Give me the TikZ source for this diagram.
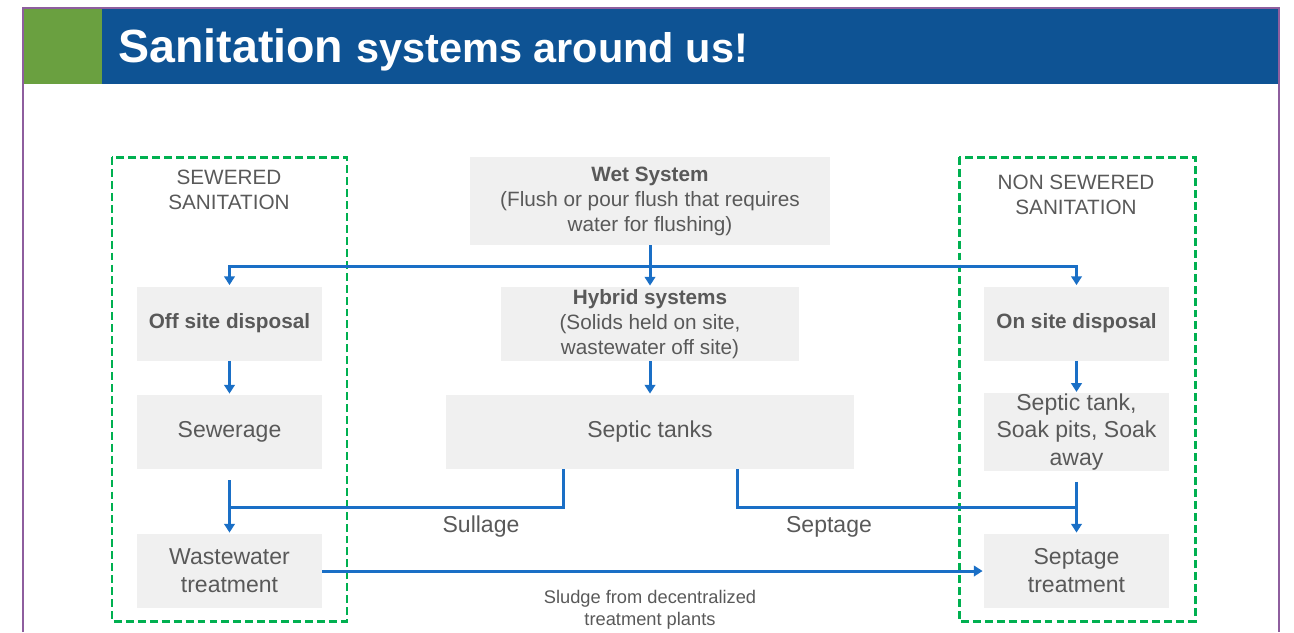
\documentclass[tikz,border=0pt]{standalone}
\usepackage{fontspec}
\setmainfont{Liberation Sans}
\usetikzlibrary{arrows.meta}

\definecolor{hdrblue}{HTML}{0E5394}
\definecolor{hdrgreen}{HTML}{6AA040}
\definecolor{framepurple}{HTML}{8E5E9E}
\definecolor{boxgray}{HTML}{F0F0F0}
\definecolor{txtgray}{HTML}{595959}
\definecolor{flowblue}{HTML}{1A6FC6}
\definecolor{zonegreen}{HTML}{00B050}

\begin{document}
\begin{tikzpicture}[
	box/.style={fill=boxgray, text=txtgray, align=center, inner sep=0pt,
		minimum width=3.7cm, minimum height=1.48cm,
		font=\fontsize{13.1}{15.9}\selectfont},
	small/.style={font=\fontsize{11.8}{14.2}\selectfont},
	lbl/.style={text=txtgray, align=center},
	link/.style={draw=flowblue, line width=1.7pt},
	flow/.style={link, -{Triangle[length=5pt,width=6pt]}, shorten >=0.6pt},
	zone/.style={draw=zonegreen, line width=1.7pt, dash pattern=on 4.5pt off 2.3pt}]
	\def \hor{ 0.02 };
	\def \ver{ -0.02 };
	\def \gap{ 11*0.5669pt };
	\useasboundingbox (0,0) rectangle (1294*\hor,632*\ver);

	% slide frame and header
	\fill[hdrgreen] (23*\hor,8*\ver) rectangle (102*\hor,84*\ver);
	\fill[hdrblue] (102*\hor,8*\ver) rectangle (1279*\hor,84*\ver);
	\draw[framepurple, line width=0.6pt] (23*\hor,632*\ver) -- (23*\hor,8*\ver) -- (1279*\hor,8*\ver) -- (1279*\hor,632*\ver);
	\node[anchor=base west, inner sep=0pt, text=white, font=\bfseries] (title) at (118*\hor,62*\ver)
		{\fontsize{26.5}{30}\selectfont Sanitation \fontsize{23.6}{28}\selectfont systems around us!};

	% zones
	\draw[zone] (112*\hor,157*\ver) rectangle (347*\hor,621*\ver);
	\draw[zone] (959*\hor,157*\ver) rectangle (1195*\hor,621*\ver);
	\node[lbl, small] (sewered) at (229*\hor,190*\ver) {SEWERED\\SANITATION};
	\node[lbl, small] (nonsewered) at (1076*\hor,195*\ver) {NON SEWERED\\SANITATION};

	% boxes
	\node[box, small, minimum width=7.2cm, minimum height=1.76cm] (wet) at (650*\hor,201*\ver)
		{\textbf{Wet System}\\(Flush or pour flush that requires\\water for flushing)};
	\node[box, small] (off) at (229.5*\hor,323.5*\ver) {\textbf{Off site disposal}};
	\node[box, small, minimum width=5.96cm] (hyb) at (650*\hor,324*\ver)
		{\textbf{Hybrid systems}\\(Solids held on site,\\wastewater off site)};
	\node[box, small] (on) at (1076.5*\hor,323.5*\ver) {\textbf{On site disposal}};
	\node[box] (sew) at (229.5*\hor,432*\ver) {Sewerage};
	\node[box, minimum width=8.18cm] (sep) at (650*\hor,432*\ver) {Septic tanks};
	\node[box] (soak) at (1076.5*\hor,432*\ver) {Septic tank,\\Soak pits, Soak\\away};
	\node[box] (wwt) at (229.5*\hor,571*\ver) {Wastewater\\treatment};
	\node[box] (stt) at (1076.5*\hor,571*\ver) {Septage\\treatment};

	% connectors
	\coordinate (split) at (650*\hor,266*\ver);
	\coordinate (sulla) at (563*\hor,469*\ver);
	\coordinate (sullb) at (229.5*\hor,507*\ver);
	\coordinate (septa) at (737*\hor,469*\ver);
	\coordinate (septb) at (1076.5*\hor,507*\ver);

	\draw[flow] (wet) -- (hyb);
	\draw[flow] (split) -| (off);
	\draw[flow] (split) -| (on);
	\draw[flow] (off) -- (sew);
	\draw[flow] (hyb) -- (sep);
	\draw[flow] (on) -- (soak);
	\draw[flow, shorten <=\gap] (sew) -- (wwt);
	\draw[flow, shorten <=\gap] (soak) -- (stt);
	\draw[link] (sulla) |- (sullb);
	\draw[link] (septa) |- (septb);
	\draw[flow] (wwt) -- (stt);

	% flow labels
	\node[lbl, font=\fontsize{13.1}{15.9}\selectfont] (sullage) at (481*\hor,527*\ver) {Sullage};
	\node[lbl, font=\fontsize{13.1}{15.9}\selectfont] (septage) at (829*\hor,527*\ver) {Septage};
	\node[lbl, font=\fontsize{10.4}{12.5}\selectfont] (sludge) at (650*\hor,610*\ver)
		{Sludge from decentralized\\treatment plants};
\end{tikzpicture}
\end{document}
